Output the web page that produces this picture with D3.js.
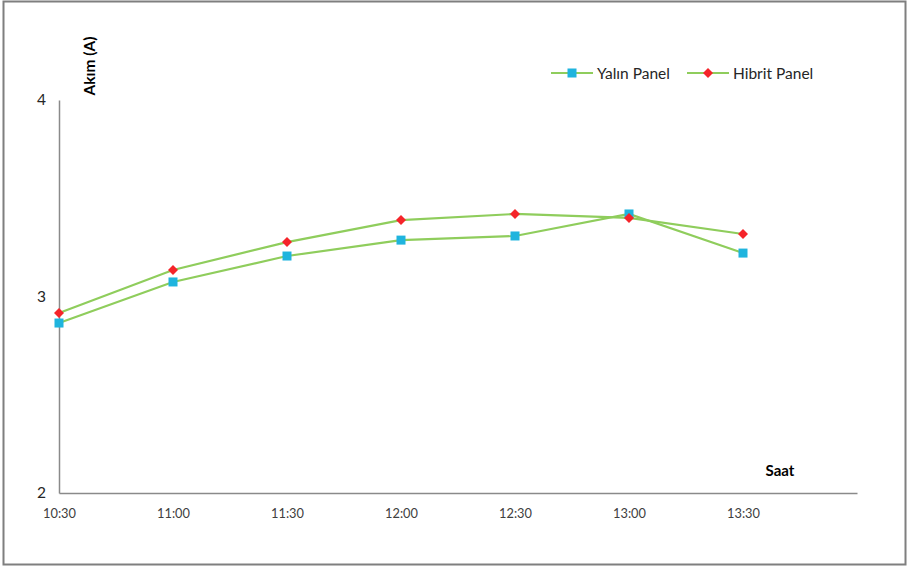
<!DOCTYPE html>
<html><head><meta charset="utf-8">
<script src="https://cdn.jsdelivr.net/npm/d3@7"></script>
<style>body{margin:0;background:#fff}svg{display:block}</style>
</head><body>
<script>
const categories = ["10:30","11:00","11:30","12:00","12:30","13:00","13:30"];
const yalin = [2.865, 3.074, 3.206, 3.287, 3.308, 3.42, 3.221];
const hibrit = [2.916, 3.135, 3.277, 3.389, 3.42, 3.40, 3.318];
const yTicks = [2, 3, 4];
const seriesNames = ["Yalın Panel", "Hibrit Panel"];

const W = 908, H = 567;
const svg = d3.select("body").append("svg").attr("width", W).attr("height", H);
svg.append("rect").attr("x",3.5).attr("y",1.5).attr("width",902).attr("height",563)
  .attr("fill","#fff").attr("stroke","#7f7f7f").attr("stroke-width",2);

const x = d3.scaleLinear().domain([0, categories.length]).range([59, 857]);
const y = d3.scaleLinear().domain([2, 4]).range([493, 100]);
const font = "Lato, 'Open Sans', sans-serif";
const lineColor = "#8fcd5c";

// axes
const yAxis = svg.append("g").attr("transform","translate(59,0)")
  .call(d3.axisLeft(y).tickValues(yTicks).tickSize(0).tickPadding(13).tickFormat(d3.format("d")));
yAxis.select(".domain").attr("stroke","#8a8a8a").attr("stroke-width",1.5);
yAxis.selectAll("text").attr("font-family",font).attr("font-size",15.5).attr("fill","#262626");

const xAxis = svg.append("g").attr("transform","translate(0,493)")
  .call(d3.axisBottom(x).tickValues(d3.range(categories.length)).tickSize(0).tickPadding(16)
    .tickFormat(i => categories[i]));
xAxis.select(".domain").attr("stroke","#8a8a8a").attr("stroke-width",1.5);
xAxis.selectAll("text").attr("font-family",font).attr("font-size",12.8).attr("fill","#404040");

// titles
svg.append("text").attr("transform","translate(95,66) rotate(-90)").attr("text-anchor","middle")
  .attr("font-family",font).attr("font-weight","bold").attr("font-size",15.5).attr("fill","#000").text("Akım (A)");
svg.append("text").attr("x",780).attr("y",476).attr("text-anchor","middle")
  .attr("font-family",font).attr("font-weight","bold").attr("font-size",15).attr("fill","#000").text("Saat");

const line = d3.line().x((d,i)=>x(i)).y(d=>y(d));
const series = [
  {name: seriesNames[0], values: yalin, marker: "square", color: "#1fb4de"},
  {name: seriesNames[1], values: hibrit, marker: "diamond", color: "#f5242a"}
];
function drawMarker(g, type, color, cx, cy){
  if(type==="square"){
    g.append("rect").attr("x",cx-4.5).attr("y",cy-4.5).attr("width",9).attr("height",9).attr("fill",color);
  } else {
    g.append("path").attr("d",`M${cx},${cy-5}L${cx+5},${cy}L${cx},${cy+5}L${cx-5},${cy}Z`).attr("fill",color);
  }
}
series.forEach(s=>{
  svg.append("path").datum(s.values).attr("d",line).attr("fill","none")
    .attr("stroke",lineColor).attr("stroke-width",2.2);
});
series.forEach(s=>{
  const g = svg.append("g");
  s.values.forEach((v,i)=>drawMarker(g, s.marker, s.color, x(i), y(v)));
});

// legend
const legX = [551, 687];
series.forEach((s,k)=>{
  const g = svg.append("g");
  g.append("line").attr("x1",legX[k]).attr("x2",legX[k]+42).attr("y1",73).attr("y2",73)
    .attr("stroke",lineColor).attr("stroke-width",2.2);
  drawMarker(g, s.marker, s.color, legX[k]+21, 73);
  g.append("text").attr("x",legX[k]+46).attr("y",78.5).attr("font-family",font).attr("font-size",15.5)
    .attr("fill","#262626").text(s.name);
});
</script>
</body></html>
